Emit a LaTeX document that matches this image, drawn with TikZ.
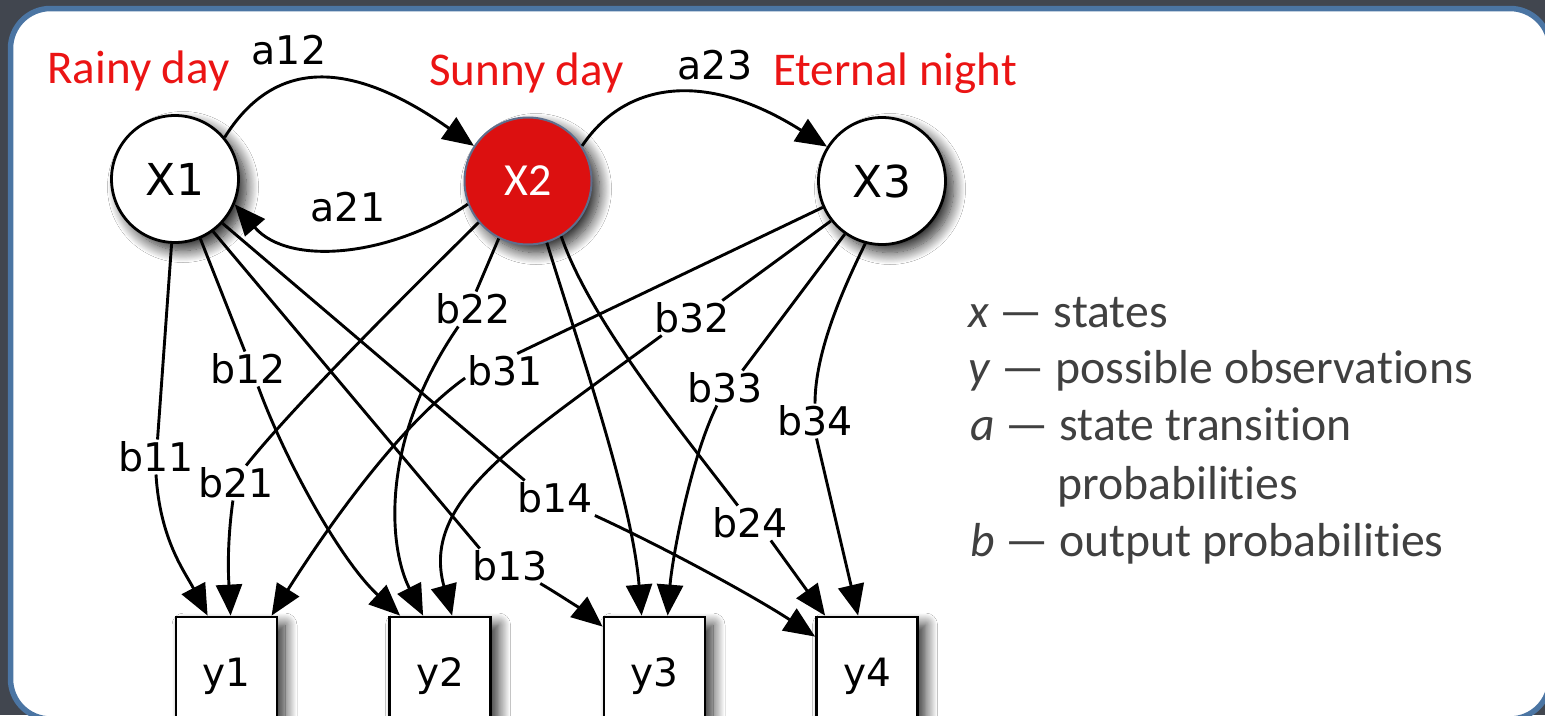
\documentclass[tikz,border=0pt]{standalone}
\usepackage{fontspec}
\setmainfont[Ligatures={NoCommon,NoRare}]{Carlito}
\newfontfamily\dvsans{DejaVu Sans}
\usetikzlibrary{arrows.meta,calc,shadows.blur}
\definecolor{bgdark}{RGB}{65,70,79}
\definecolor{bordblue}{RGB}{75,117,163}
\definecolor{redtxt}{RGB}{235,20,20}
\definecolor{redfill}{RGB}{220,16,16}
\definecolor{legtxt}{RGB}{64,64,64}
\definecolor{x2edge}{RGB}{95,110,140}
\tikzset{
  shd/.style={blur shadow={shadow xshift=8pt, shadow yshift=-8pt, shadow blur radius=12pt, shadow blur steps=16, shadow opacity=85}},
  state/.style={circle, draw=black, line width=2.8pt, fill=white, minimum size=127pt, inner sep=0pt, font=\dvsans\fontsize{44}{50}\selectfont, shd},
  obs/.style={rectangle, draw=black, line width=2.8pt, fill=white, minimum width=101pt, minimum height=118pt, inner sep=0pt, font=\dvsans\fontsize{39}{45}\selectfont, shd},
  lab/.style={font=\dvsans\fontsize{39.5}{45}\selectfont, inner sep=2pt},
  redlab/.style={text=redtxt, font=\fontsize{47}{56}\selectfont, anchor=base, inner sep=0pt},
  legend/.style={text=legtxt, font=\fontsize{47.7}{56}\selectfont, anchor=base west, inner sep=0pt},
  ln/.style={draw=black, line width=2.9pt},
  arr/.style={-{Triangle[length=31pt,width=26pt]}}
}
\begin{document}
\begin{tikzpicture}[x=1pt,y=-1pt]
\useasboundingbox (0,0) rectangle (1545,715);
\clip (0,0) rectangle (1545,715);
\fill[bgdark] (0,0) rectangle (1545,715);
\draw[bordblue, line width=5.5pt, fill=white, rounded corners=40pt] (10.5,8.5) rectangle (1550,719);

% states
\node[state] (X1) at (175,179) {X1};
\node[state, fill=redfill, draw=x2edge, line width=2pt, text=white, font=\fontsize{46}{52}\selectfont] (X2) at (528,181) {X2};
\node[state] (X3) at (882,181) {X3};

% observations
\node[obs] (y1) at (226.5,676) {y1};
\node[obs] (y2) at (440,676) {y2};
\node[obs] (y3) at (654.5,676) {y3};
\node[obs] (y4) at (867,676) {y4};

% state names
\node[redlab] (rainy) at (138.5,83) {Rainy day};
\node[redlab] (sunny) at (526.5,85) {Sunny day};
\node[redlab] (night) at (895,85) {Eternal night};

% transition labels
\node[lab] (a12) at (289,50) {a12};
\node[lab] (a21) at (348,207) {a21};
\node[lab] (a23) at (715,65) {a23};

% output labels
\node[lab] (b11) at (156,457) {b11};
\node[lab] (b21) at (236,483) {b21};
\node[lab] (b12) at (248,369) {b12};
\node[lab] (b22) at (473,309) {b22};
\node[lab] (b31) at (505,371) {b31};
\node[lab] (b32) at (692,318) {b32};
\node[lab] (b33) at (725,388) {b33};
\node[lab] (b34) at (815,421) {b34};
\node[lab] (b14) at (555,498) {b14};
\node[lab] (b24) at (750,523) {b24};
\node[lab] (b13) at (510,566) {b13};

% transitions
\draw[ln,arr] (X1.40) .. controls (272,62) and (345,55) .. (X2.147);
\draw[ln,arr] (X2.201) .. controls (395,255) and (290,268) .. (X1.-23);
\draw[ln,arr] (X2.33) .. controls (623,85) and (701,67) .. (X3.148);

% outputs to y1
\draw[ln] (X1.-93) -- (b11.85);
\draw[ln,arr] (b11.-90) .. controls (160,540) and (185,572) .. ($(y1.north west)+(33,0)$);
\draw[ln] (X2.-140) .. controls (400,300) and (290,410) .. (b21.60);
\draw[ln,arr] (b21.-100) .. controls (226,550) and (229,585) .. ($(y1.north west)+(56,0)$);
\draw[ln] (X3.-156) -- (b31.55);
\draw[ln,arr] (b31.190) .. controls (395,428) and (318,542) .. ($(y1.north west)+(97,0)$);

% outputs to y2
\draw[ln] (X1.-67) -- (b12.100);
\draw[ln,arr] (b12.-60) .. controls (285,460) and (340,560) .. ($(y2.north west)+(12,0)$);
\draw[ln] (X2.-117) -- (b22.80);
\draw[ln,arr] (b22.-130) .. controls (380,440) and (388,546) .. ($(y2.north west)+(35,0)$);
\draw[ln] (X3.-142) -- (b32.30);
\draw[ln,arr] (b32.-150) .. controls (520,440) and (420,500) .. ($(y2.north west)+(64,0)$);

% outputs to y3
\draw[ln] (X1.-54) -- (b13.150);
\draw[ln,arr] (b13.-30) .. controls (560,595) and (585,612) .. ($(y3.north west)+(0,11)$);
\draw[ln,arr] (X2.-73) .. controls (580,350) and (632,500) .. ($(y3.north west)+(39,0)$);
\draw[ln] (X3.-125) -- (b33.45);
\draw[ln,arr] (b33.-115) .. controls (690,460) and (672,560) .. ($(y3.north west)+(65,0)$);

% outputs to y4
\draw[ln] (X1.-43) -- (b14.150);
\draw[ln,arr] (b14.south east) .. controls (670,550) and (760,600) .. ($(y4.north west)+(0,21)$);
\draw[ln] (X2.-59) .. controls (590,320) and (680,430) .. (b24.125);
\draw[ln,arr] (b24.-40) -- ($(y4.north west)+(10,0)$);
\draw[ln] (X3.-105) .. controls (845,285) and (815,350) .. (b34.north);
\draw[ln,arr] (b34.-85) -- ($(y4.north west)+(43,0)$);

% legend
\node[legend] (lx) at (968,327) {\textit{x} — states};
\node[legend] (ly) at (968,383) {\textit{y} — possible observations};
\node[legend] (la) at (970,440) {\textit{a} — state transition};
\node[legend] (la2) at (1057,499) {probabilities};
\node[legend] (lb) at (970,556) {\textit{b} — output probabilities};
\end{tikzpicture}
\end{document}
